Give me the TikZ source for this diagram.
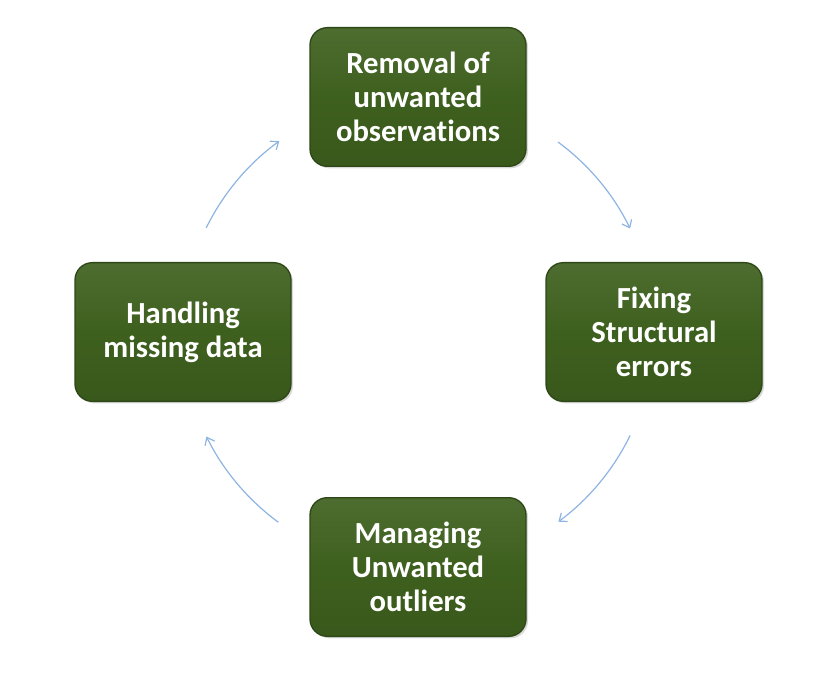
\documentclass[tikz,border=0pt]{standalone}
\usepackage{fontspec}
\setmainfont[Ligatures=NoCommon,RawFeature={-liga;-calt}]{Carlito}
\usetikzlibrary{arrows.meta,shadows}
\definecolor{boxgreen}{RGB}{62,96,30}
\definecolor{boxedge}{RGB}{45,72,22}
\definecolor{arrowblue}{RGB}{141,180,226}
\tikzset{
  stepbox/.style={rounded corners=13pt, draw=boxedge, line width=1pt,
    top color=boxgreen!92!white, bottom color=boxgreen!92!black, middle color=boxgreen,
    minimum width=162pt, minimum height=104pt, align=center, text=white,
    font=\bfseries\fontsize{23}{25.5}\selectfont,
    drop shadow={shadow xshift=1.5pt, shadow yshift=-1.5pt, opacity=0.3}},
  cyclearrow/.style={draw=arrowblue, line width=0.9pt, -{Straight Barb[length=5pt,width=8pt]}}
}
\begin{document}
\begin{tikzpicture}[x=0.75pt,y=0.75pt]
\useasboundingbox (0,0) rectangle (834,675);
\node[stepbox] (top) at (418,578) {Removal of\\unwanted\\observat\kern0pt ions};
\node[stepbox] (right) at (654,343) {Fixing\\Structural\\errors};
\node[stepbox] (bottom) at (418,108) {Managing\\Unwanted\\outliers};
\node[stepbox] (left) at (183,343) {Handling\\missing data};
\coordinate (c) at (418,343);
\draw[cyclearrow] (c) ++(53.6:177pt) arc[start angle=53.6, end angle=26, radius=177pt];
\draw[cyclearrow] (c) ++(-26:177pt) arc[start angle=-26, end angle=-53.5, radius=177pt];
\draw[cyclearrow] (c) ++(233.7:177pt) arc[start angle=233.7, end angle=206.3, radius=177pt];
\draw[cyclearrow] (c) ++(153.8:177pt) arc[start angle=153.8, end angle=126, radius=177pt];
\end{tikzpicture}
\end{document}
